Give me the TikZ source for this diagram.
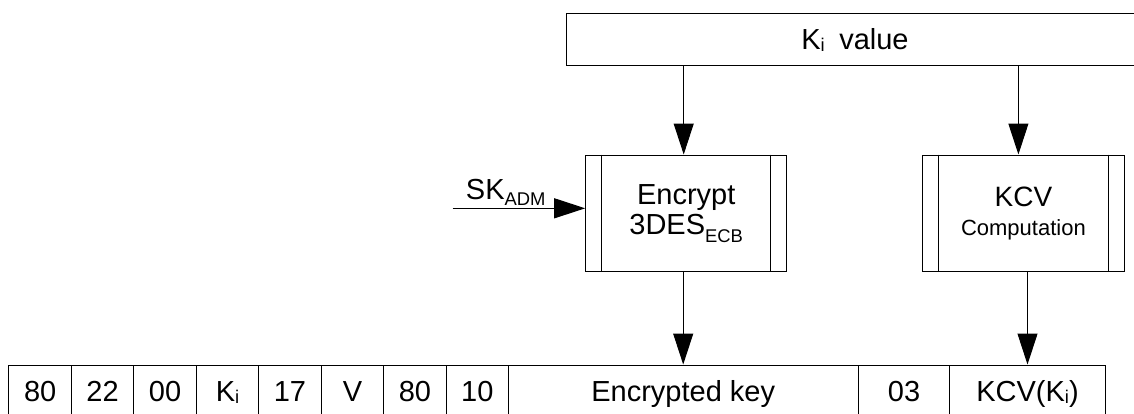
\documentclass[tikz,border=0pt]{standalone}
\usepackage{fontspec}
\setmainfont{Liberation Sans}
\usetikzlibrary{arrows.meta, positioning}
\newcommand{\sbs}[2][1pt]{\raisebox{-#1}{\fontsize{9.2}{10}\selectfont #2}}

\begin{document}
\begin{tikzpicture}[x=0.5pt, y=-0.5pt,
    box/.style={draw, line width=0.5pt, inner sep=0pt, align=center, font=\fontsize{14.5}{15}\selectfont},
    cell/.style={box, minimum height=26pt, text height=13pt, text depth=2.3pt},
    arr/.style={-{Triangle[length=15.5pt,width=10pt]}, line width=0.5pt, black}]
    \useasboundingbox (0,0) rectangle (1134,413);

    % Key value and processing blocks
    \node[box, minimum width=288.4pt, minimum height=26.2pt] (kv) at (855,39.5) {K\sbs{i}\hspace{0.5em}value};
    \node[box, minimum width=100.5pt, minimum height=58.4pt] (enc) at (686.2,213.4) {Encrypt\\3DES\sbs[4pt]{ECB}};
    \node[box, minimum width=100.9pt, minimum height=58.4pt, font=\fontsize{14}{14.5}\selectfont] (kcv) at (1023.4,213.4) {KCV\\{\fontsize{11}{12}\selectfont Computation}};
    \foreach \p in {enc,kcv} {
        \draw[line width=0.5pt] ([xshift=8.2pt]\p.north west) -- ([xshift=8.2pt]\p.south west);
        \draw[line width=0.5pt] ([xshift=-8.2pt]\p.north east) -- ([xshift=-8.2pt]\p.south east);
    }

    % Command data
    \foreach \t [count=\i] in {80,22,00,{K\sbs{i}},17,V,80,10}
        \node[cell, minimum width=31.23pt] (c\i) at ({8.9+62.46*(\i-0.5)},391) {\t};
    \node[cell, minimum width=175pt] (ekey) at (683.2,391) {Encrypted key};
    \node[cell, minimum width=45.65pt] (c03) at (904,391) {03};
    \node[cell, minimum width=77.7pt] (kcvc) at (1027.5,391) {KCV(K\sbs{i})};

    % Data flow
    \coordinate (sk) at (452.7,208.3);
    \draw[arr] (sk) -- node[pos=0.4, above=0pt, inner sep=1pt, font=\fontsize{14.5}{15}\selectfont] (sklbl) {SK\sbs[3pt]{ADM}} (sk -| enc.west);
    \draw[arr] ([xshift=-1.25pt]enc.north |- kv.south) -- ([xshift=-1.25pt]enc.north);
    \draw[arr] ([xshift=-2.5pt]kcv.north |- kv.south) -- ([xshift=-2.5pt]kcv.north);
    \draw[arr] (ekey.north |- enc.south) -- (ekey.north);
    \draw[arr] (kcvc.north |- kcv.south) -- (kcvc.north);
\end{tikzpicture}
\end{document}
